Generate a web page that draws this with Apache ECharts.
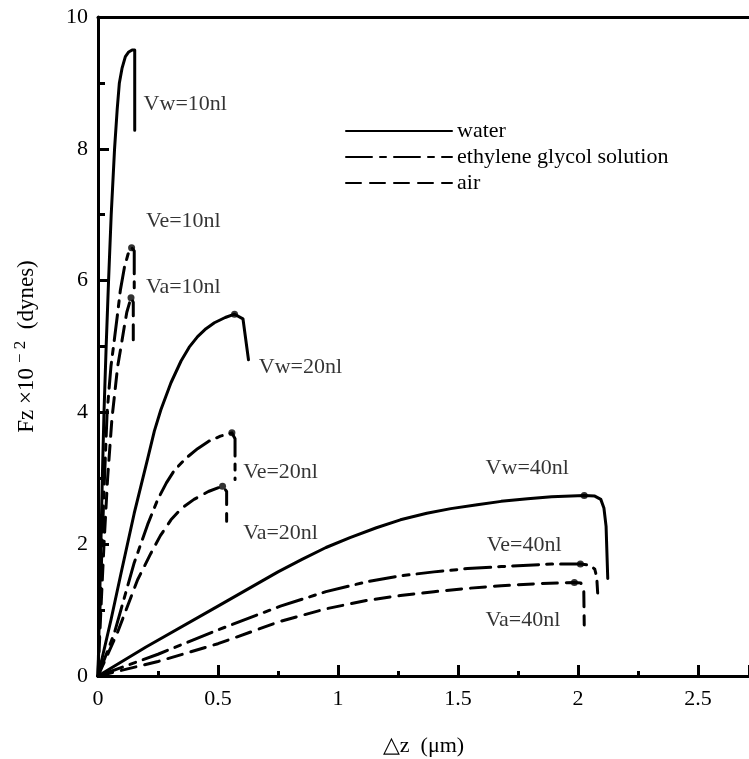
<!DOCTYPE html>
<html>
<head>
<meta charset="utf-8">
<script src="https://cdn.jsdelivr.net/npm/echarts@6/dist/echarts.min.js"></script>
<style>
html,body{margin:0;padding:0;background:#fff;}
#c{width:749px;height:759px;}
</style>
</head>
<body>
<div id="c"></div>
<script>
// ---- data (x: Δz in µm, y: Fz ×10^-2 dynes) ----
var water10 = [[0,0],[0.006,1],[0.012,2],[0.018,3],[0.025,4],[0.034,5],[0.044,6],[0.055,7],[0.069,8],[0.08,8.6],[0.089,9],[0.1,9.22],[0.114,9.4],[0.128,9.47],[0.142,9.5],[0.153,9.5],[0.153,8.28]];
var water20 = [[0,0],[0.054,0.85],[0.096,1.56],[0.151,2.47],[0.207,3.3],[0.235,3.72],[0.262,4.04],[0.304,4.45],[0.346,4.78],[0.38,4.99],[0.415,5.15],[0.45,5.27],[0.485,5.36],[0.53,5.44],[0.569,5.49],[0.604,5.42],[0.627,4.8]];
var water40 = [[0,0],[0.2,0.44],[0.5,1.06],[0.75,1.58],[0.85,1.77],[0.95,1.95],[1.05,2.1],[1.16,2.25],[1.26,2.37],[1.37,2.47],[1.47,2.54],[1.58,2.6],[1.68,2.65],[1.79,2.69],[1.89,2.72],[2.026,2.74],[2.07,2.73],[2.095,2.68],[2.108,2.55],[2.117,2.27],[2.124,1.48]];
var eth10 = [[0,0],[0.008,1],[0.017,2],[0.027,3],[0.038,4],[0.054,4.7],[0.068,5.1],[0.082,5.51],[0.093,5.85],[0.11,6.2],[0.125,6.4],[0.14,6.5],[0.151,6.45],[0.151,5.84]];
var eth20 = [[0,0],[0.068,0.65],[0.151,1.72],[0.207,2.3],[0.249,2.68],[0.285,2.93],[0.318,3.12],[0.365,3.3],[0.415,3.45],[0.46,3.56],[0.51,3.64],[0.558,3.69],[0.571,3.6],[0.571,2.98]];
var eth40 = [[0,0],[0.25,0.33],[0.5,0.7],[0.76,1.06],[0.95,1.28],[1.12,1.43],[1.26,1.52],[1.4,1.58],[1.54,1.63],[1.68,1.66],[1.89,1.7],[2.01,1.7],[2.05,1.68],[2.07,1.62],[2.078,1.5],[2.082,1.26]];
var air10 = [[0,0],[0.012,1],[0.025,2],[0.04,3],[0.058,3.9],[0.07,4.3],[0.082,4.7],[0.096,5.0],[0.11,5.31],[0.12,5.52],[0.1375,5.74],[0.147,5.67],[0.147,5.0]];
var air20 = [[0,0],[0.08,0.65],[0.165,1.46],[0.22,1.86],[0.26,2.13],[0.304,2.37],[0.35,2.55],[0.4,2.68],[0.46,2.8],[0.519,2.88],[0.536,2.8],[0.536,2.35]];
var air40 = [[0,0],[0.25,0.22],[0.5,0.49],[0.76,0.83],[0.95,1.02],[1.124,1.15],[1.26,1.22],[1.4,1.28],[1.54,1.33],[1.68,1.37],[1.83,1.4],[1.985,1.42],[2.012,1.41],[2.024,1.33],[2.026,0.775]];
var peakPoints = [[0.569,5.49],[0.14,6.5],[0.1375,5.74],[0.558,3.69],[0.519,2.88],[2.026,2.74],[2.01,1.7],[1.985,1.42]];
var curveLabels = [
  ['Vw=10nl',0.19,8.68],['Ve=10nl',0.2,6.9],['Va=10nl',0.2,5.9],
  ['Vw=20nl',0.67,4.69],['Ve=20nl',0.605,3.09],['Va=20nl',0.605,2.17],
  ['Vw=40nl',1.615,3.16],['Ve=40nl',1.62,1.99],['Va=40nl',1.615,0.85]
];
var legendNames = ['water','ethylene glycol solution','air'];
var xTicks = [0,0.5,1,1.5,2,2.5];
var yTicks = [0,2,4,6,8,10];

// ---- chart ----
var FONT = 'Liberation Serif';
var styles = {
  'water': {type:'solid'},
  'ethylene glycol solution': {type:[26,8,6,8]},
  'air': {type:[15,9]}
};
function lineSeries(name, data){
  return {
    type:'line', name:name, data:data, symbol:'none', smooth:false,
    lineStyle:{color:'#000', width:3, type:styles[name].type, cap:'round', join:'round'},
    itemStyle:{color:'#000'}, z:2
  };
}
var series = [
  lineSeries('water', water10), lineSeries('water', water20), lineSeries('water', water40),
  lineSeries('ethylene glycol solution', eth10), lineSeries('ethylene glycol solution', eth20), lineSeries('ethylene glycol solution', eth40),
  lineSeries('air', air10), lineSeries('air', air20), lineSeries('air', air40),
  {type:'scatter', name:'peaks', data:peakPoints, symbol:'circle', symbolSize:7, itemStyle:{color:'#000'}, z:3},
  {type:'scatter', name:'labels', symbolSize:0,
   data:curveLabels.map(function(d){return {name:d[0], value:[d[1],d[2]]};}),
   label:{show:true, position:'right', distance:0, formatter:'{b}', color:'#000', fontFamily:FONT, fontSize:22}}
];

var chart = echarts.init(document.getElementById('c'), null, {renderer:'canvas'});
chart.setOption({
  animation:false,
  backgroundColor:'#fff',
  grid:{left:98, right:0, top:17, bottom:83, containLabel:false, outerBoundsMode:'none'},
  legend:{
    data:legendNames, orient:'vertical', left:345, top:120, padding:0,
    itemWidth:106, itemHeight:14, itemGap:4,
    itemStyle:{opacity:0},
    textStyle:{fontFamily:FONT, fontSize:22, color:'#000', lineHeight:22},
    selectedMode:false
  },
  xAxis:[{
    type:'value', min:0, max:2.7125, interval:0.5,
    axisLine:{lineStyle:{color:'#000', width:3}},
    axisTick:{inside:true, length:11, lineStyle:{color:'#000', width:3}},
    minorTick:{show:true, splitNumber:2, length:5, lineStyle:{color:'#000', width:3}},
    splitLine:{show:false},
    axisLabel:{margin:12, color:'#000', fontFamily:FONT, fontSize:22, showMaxLabel:false,
      formatter:function(v){ return xTicks.indexOf(v) >= 0 ? String(v) : ''; }},
    name:'△z  (μm)', nameLocation:'middle', nameGap:59,
    nameTextStyle:{fontFamily:FONT, fontSize:22, color:'#000'}
  },{
    type:'value', position:'top', min:0, max:2.7125,
    axisLine:{show:true, lineStyle:{color:'#000', width:3}},
    axisTick:{show:false}, axisLabel:{show:false}, splitLine:{show:false}
  }],
  yAxis:{
    type:'value', min:0, max:10, interval:2,
    axisLine:{show:true, lineStyle:{color:'#000', width:3}},
    axisTick:{inside:true, length:11, lineStyle:{color:'#000', width:3}},
    minorTick:{show:true, splitNumber:2, length:7, lineStyle:{color:'#000', width:3}},
    splitLine:{show:false},
    axisLabel:{margin:10, color:'#000', fontFamily:FONT, fontSize:22,
      formatter:function(v){ return yTicks.indexOf(v) >= 0 ? String(v) : ''; }},
    name:'{a|Fz ×10}{s|− 2}{a|  (dynes)}', nameLocation:'middle', nameGap:57, nameRotate:90,
    nameTextStyle:{fontFamily:FONT, fontSize:23, color:'#000',
      rich:{a:{fontFamily:FONT, fontSize:23, color:'#000'},
            s:{fontFamily:FONT, fontSize:17, color:'#000', padding:[0,0,12,5]}}}
  },
  series:series
});
</script>
</body>
</html>
